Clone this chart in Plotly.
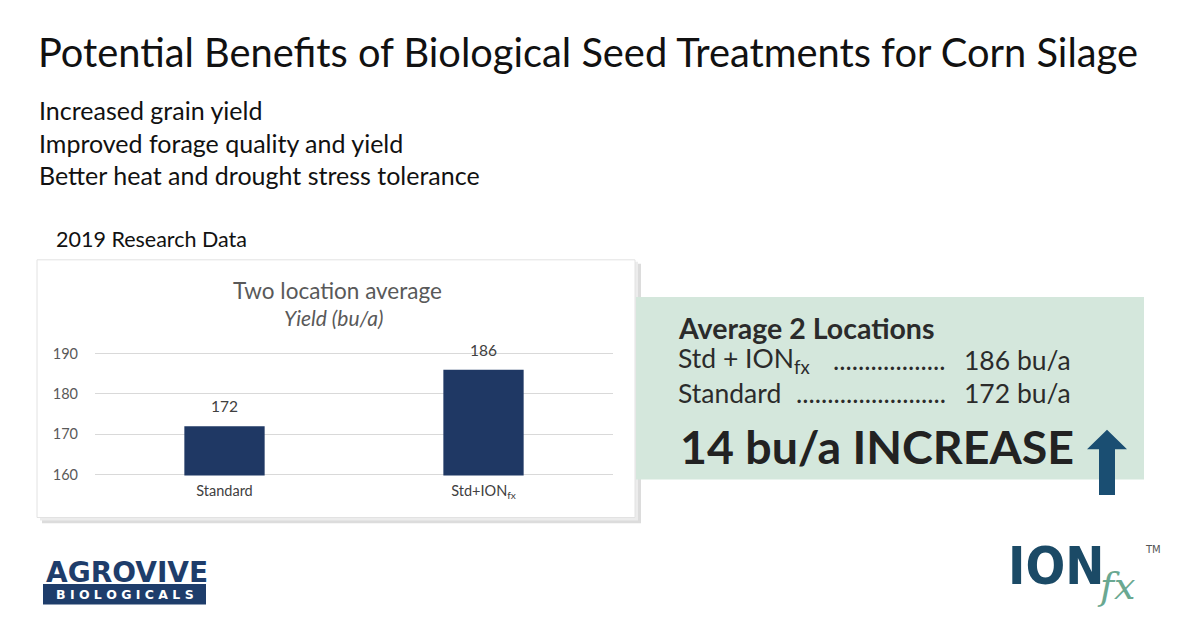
import plotly.graph_objects as go

W, H = 1200, 627

# ---- data ----
categories = ["Standard", "Std+ION<sub>fx</sub>"]
yields = [172, 186]
y_ticks = [160, 170, 180, 190]
title_text = "Potential Benefits of Biological Seed Treatments for Corn Silage"
bullets = ["Increased grain yield", "Improved forage quality and yield",
           "Better heat and drought stress tolerance"]
chart_title = "Two location average"
chart_subtitle = "Yield (bu/a)"
summary_head = "Average 2 Locations"
summary_labels = ["Std + ION<sub>fx</sub>", "Standard"]
summary_values = ["186 bu/a", "172 bu/a"]
summary_dots = ["..................", "........................"]
increase_text = "14 bu/a INCREASE"


def px(x):
    return x / W


def py(y):
    return 1 - y / H


BODY = "Lato, 'Open Sans', sans-serif"
GEO = "Lato, 'Noto Sans', sans-serif"
NAVY = "#1f3864"

fig = go.Figure()
fig.add_trace(go.Bar(
    x=categories, y=yields, marker=dict(color=NAVY, line=dict(width=0)),
    hoverinfo="skip", showlegend=False,
))

shapes = []
# chart panel shadow + panel
shapes.append(dict(type="rect", xref="paper", yref="paper", layer="below",
                   x0=px(42), x1=px(641), y0=py(528), y1=py(262),
                   fillcolor="#dcdcdc", line=dict(width=0)))
shapes.append(dict(type="rect", xref="paper", yref="paper", layer="below",
                   x0=px(40), x1=px(638), y0=py(525), y1=py(260),
                   fillcolor="#ececec", line=dict(width=0)))
# green summary box
shapes.append(dict(type="rect", xref="paper", yref="paper", layer="below",
                   x0=px(636), x1=px(1144), y0=py(483), y1=py(296),
                   fillcolor="#d4e7dc", line=dict(width=0)))
shapes.append(dict(type="rect", xref="paper", yref="paper", layer="below",
                   x0=px(37), x1=px(635), y0=py(522), y1=py(258),
                   fillcolor="white", line=dict(color="#e2e2e2", width=1)))
# arrow
ARROW = "#1a4e72"
shapes.append(dict(type="path", xref="paper", yref="paper",
                   path=(f"M {px(1099)} {py(499)} L {px(1115)} {py(499)} L {px(1115)} {py(452)} "
                         f"L {px(1127)} {py(452)} L {px(1107)} {py(432)} L {px(1087)} {py(452)} "
                         f"L {px(1099)} {py(452)} Z"),
                   fillcolor=ARROW, line=dict(width=0)))
# Agrovive banner
shapes.append(dict(type="rect", xref="paper", yref="paper",
                   x0=px(43), x1=px(206), y0=py(611), y1=py(590),
                   fillcolor="#1e3d6b", line=dict(width=0)))

ann = []


def pann(text, x, y, xanchor="left", size=20, color="#111111", family=BODY, weight=None):
    f = dict(family=family, size=size, color=color)
    if weight is not None:
        f["weight"] = weight
    ann.append(dict(text=text, xref="paper", yref="paper", x=px(x), y=py(y),
                    xanchor=xanchor, yanchor="middle", showarrow=False, font=f))


pann(title_text, 36, 45, size=39.8)
for i, b in enumerate(bullets):
    pann(b, 37, 105 + 33 * i, size=25)
pann("2019 Research Data", 54, 237, size=21.5)
pann(chart_title, 337, 289, xanchor="center", size=22.5, color="#595959", family=GEO)
pann(f"<i>{chart_subtitle}</i>", 334, 317, xanchor="center", size=21, color="#595959",
     family=GEO)

# bar value labels
for c, v in zip(categories, yields):
    ann.append(dict(text=str(v), x=c, y=v, xref="x", yref="y", xanchor="center",
                    yanchor="bottom", yshift=9, showarrow=False,
                    font=dict(family=GEO, size=15.5, color="#404040")))

# summary box
TXT = "#2b2b2b"
pann(f"<b>{summary_head}</b>", 676, 328, size=28.5, color=TXT, family=GEO, weight=900)
for i, (lab, dots, val) in enumerate(zip(summary_labels, summary_dots, summary_values)):
    yy = 361 + 33 * i
    pann(lab, 676, yy, size=26.5, color=TXT, family=GEO)
    pann(dots, 948, yy, xanchor="right", size=26.5, color=TXT, family=GEO)
    pann(val, 1073, yy, xanchor="right", size=26.5, color=TXT, family=GEO)
pann(f"<b>{increase_text}</b>", 678, 449, size=46.5, color="#222222", family=GEO, weight=900)

# Agrovive logo
pann("<b>AGROVIVE</b>", 44, 578, size=28, color="#1e3d6b", family="'DejaVu Sans', sans-serif")
pann("<b>B I O L O G I C A L S</b>", 124.5, 601, xanchor="center", size=12.5, color="white",
     family="'DejaVu Sans', sans-serif")
# ION fx logo
pann("<b>ION</b>", 1006, 572, size=52, color="#1b4a66",
     family="'Liberation Sans Narrow', 'DejaVu Sans Condensed', sans-serif")
pann("<i>fx</i>", 1095, 592, size=38, color="#6aa891", family="'DejaVu Serif', serif")
pann("TM", 1143, 555, size=10, color="#555555", family="'DejaVu Sans', sans-serif")

fig.update_layout(
    width=W, height=H, margin=dict(l=0, r=0, t=0, b=0),
    paper_bgcolor="white", plot_bgcolor="rgba(0,0,0,0)",
    bargap=0.69, shapes=shapes, annotations=ann,
    xaxis=dict(domain=[px(95), px(613)], range=[-0.5, 1.5], showgrid=False, zeroline=False,
               showline=False, ticks="", tickfont=dict(family=GEO, size=14.5, color="#404040"),
               ticklabelstandoff=5, fixedrange=True),
    yaxis=dict(domain=[py(479), py(353)], range=[159.75, 190.25], tickvals=y_ticks,
               showgrid=True, gridcolor="#d9d9d9", gridwidth=1, zeroline=False,
               showline=False, ticks="", tickfont=dict(family=GEO, size=14.5, color="#595959"),
               ticklabelstandoff=16, fixedrange=True),
)

fig.write_html("out.html")
